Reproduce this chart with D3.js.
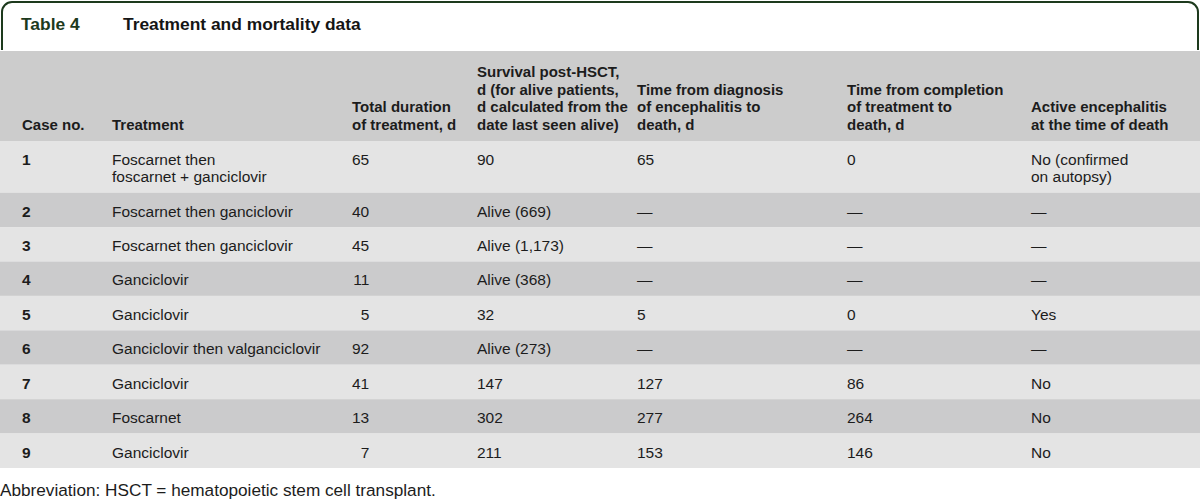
<!DOCTYPE html>
<html>
<head>
<meta charset="utf-8">
<script src="https://cdn.jsdelivr.net/npm/d3@7"></script>
<style>
  html, body { margin: 0; padding: 0; background: #ffffff; }
  svg { display: block; }
  text { font-family: "Liberation Sans", Arial, sans-serif; }
</style>
</head>
<body>
<script>
// ---------- data ----------
const tableLabel = "Table 4";
const tableTitle = "Treatment and mortality data";
const footnote = "Abbreviation: HSCT = hematopoietic stem cell transplant.";

const headers = [
  ["Case no."],
  ["Treatment"],
  ["Total duration", "of treatment, d"],
  ["Survival post-HSCT,", "d (for alive patients,", "d calculated from the", "date last seen alive)"],
  ["Time from diagnosis", "of encephalitis to", "death, d"],
  ["Time from completion", "of treatment to", "death, d"],
  ["Active encephalitis", "at the time of death"]
];

const caseNo = ["1", "2", "3", "4", "5", "6", "7", "8", "9"];
const treatment = [
  ["Foscarnet then", "foscarnet + ganciclovir"],
  ["Foscarnet then ganciclovir"],
  ["Foscarnet then ganciclovir"],
  ["Ganciclovir"],
  ["Ganciclovir"],
  ["Ganciclovir then valganciclovir"],
  ["Ganciclovir"],
  ["Foscarnet"],
  ["Ganciclovir"]
];
const totalDuration = [65, 40, 45, 11, 5, 92, 41, 13, 7];
const survival = ["90", "Alive (669)", "Alive (1,173)", "Alive (368)", "32", "Alive (273)", "147", "302", "211"];
const diagToDeath = ["65", "—", "—", "—", "5", "—", "127", "277", "153"];
const complToDeath = ["0", "—", "—", "—", "0", "—", "86", "264", "146"];
const activeEnc = [
  ["No (confirmed", "on autopsy)"],
  ["—"], ["—"], ["—"],
  ["Yes"],
  ["—"],
  ["No"], ["No"], ["No"]
];

// ---------- layout ----------
const W = 1200, H = 502;
const svg = d3.select("body").append("svg").attr("width", W).attr("height", H);

const colX = [22, 112, 352, 477, 637, 847, 1031];
const xCol = d3.scaleOrdinal().domain(d3.range(headers.length)).range(colX);

const headerTop = 51, headerBottom = 141, tableBottom = 468;
const lineH = 17.6;
const fontSize = 15.5;
const headFontSize = 15;
const textColor = "#1c1c1c";

// row units: each row = 1 base unit + extra half-unit per extra line
const rows = caseNo.map((c, i) => {
  const nLines = Math.max(treatment[i].length, activeEnc[i].length);
  return { i, nLines, units: 1 + (nLines - 1) * 0.5 };
});
let cum = 0;
rows.forEach(r => { r.u0 = cum; cum += r.units; r.u1 = cum; });
const yRow = d3.scaleLinear().domain([0, cum]).range([headerBottom, tableBottom]);

// ---------- title frame ----------
const frame = d3.path();
const r = 10, x0 = 2, x1 = 1198, y0 = 2, yb = 50;
frame.moveTo(x0, yb);
frame.lineTo(x0, y0 + r);
frame.arcTo(x0, y0, x0 + r, y0, r);
frame.lineTo(x1 - r, y0);
frame.arcTo(x1, y0, x1, y0 + r, r);
frame.lineTo(x1, yb);
svg.append("path").attr("d", frame.toString())
  .attr("fill", "none").attr("stroke", "#1d3a1d").attr("stroke-width", 2);

svg.append("text").attr("x", 21).attr("y", 30)
  .attr("font-size", 17.4).attr("font-weight", "bold").attr("fill", "#1d3a1d")
  .text(tableLabel);
svg.append("text").attr("x", 123).attr("y", 30)
  .attr("font-size", 17.4).attr("font-weight", "bold").attr("fill", "#151515")
  .text(tableTitle);

// ---------- header ----------
svg.append("rect").attr("x", 0).attr("y", headerTop).attr("width", W)
  .attr("height", headerBottom - headerTop).attr("fill", "#cccccc");

const lastBaseline = 130;
headers.forEach((lines, c) => {
  const t = svg.append("text").attr("font-size", headFontSize).attr("font-weight", "bold")
    .attr("fill", textColor);
  lines.forEach((ln, k) => {
    t.append("tspan").attr("x", xCol(c))
      .attr("y", lastBaseline - (lines.length - 1 - k) * lineH)
      .text(ln);
  });
});

// ---------- body ----------
const g = svg.append("g");
g.selectAll("rect.row").data(rows).join("rect")
  .attr("class", "row")
  .attr("x", 0).attr("width", W)
  .attr("y", d => yRow(d.u0))
  .attr("height", d => yRow(d.u1) - yRow(d.u0))
  .attr("fill", d => d.i % 2 === 0 ? "#e4e4e4" : "#cbcbcc");

function cellLines(i, c) {
  switch (c) {
    case 0: return [caseNo[i]];
    case 1: return treatment[i];
    case 2: return [String(totalDuration[i])];
    case 3: return [survival[i]];
    case 4: return [diagToDeath[i]];
    case 5: return [complToDeath[i]];
    case 6: return activeEnc[i];
  }
}

// width of two digits for right-aligning duration column
const probe = svg.append("text").attr("font-size", fontSize).text("65");
const twoDigitW = probe.node().getComputedTextLength();
probe.remove();

rows.forEach(row => {
  const top = yRow(row.u0);
  const base = top + 24;
  headers.forEach((h, c) => {
    const lines = cellLines(row.i, c);
    const t = g.append("text").attr("font-size", fontSize).attr("fill", textColor)
      .attr("font-weight", c === 0 ? "bold" : "normal");
    if (c === 2) {
      t.attr("text-anchor", "end");
    }
    lines.forEach((ln, k) => {
      t.append("tspan")
        .attr("x", c === 2 ? xCol(c) + twoDigitW : xCol(c))
        .attr("y", base + k * 17)
        .text(ln);
    });
  });
});

// ---------- footnote ----------
svg.append("text").attr("x", 0).attr("y", 496)
  .attr("font-size", 17.2).attr("fill", textColor)
  .text(footnote);
</script>
</body>
</html>
